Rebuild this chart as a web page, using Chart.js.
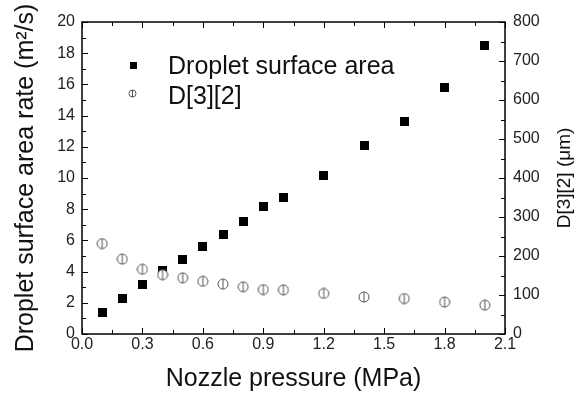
<!DOCTYPE html>
<html>
<head>
<meta charset="utf-8">
<script src="https://cdn.jsdelivr.net/npm/chart.js@4.4.0/dist/chart.umd.min.js"></script>
<style>
  html, body { margin: 0; padding: 0; background: #fff; }
</style>
</head>
<body>
<canvas id="myChart_1" width="578" height="394"></canvas>
<script>
// data
const pressure = [0.1, 0.2, 0.3, 0.4, 0.5, 0.6, 0.7, 0.8, 0.9, 1.0, 1.2, 1.4, 1.6, 1.8, 2.0];
const surfaceArea = [1.4, 2.3, 3.2, 4.05, 4.8, 5.6, 6.4, 7.2, 8.15, 8.75, 10.15, 12.1, 13.65, 15.8, 18.5];
const d32 = [232, 192, 166, 152, 144, 135, 128, 121, 114, 113, 104, 95, 91, 82, 74];
const xTicks = [0.0, 0.3, 0.6, 0.9, 1.2, 1.5, 1.8, 2.1];

const FONT = "'Liberation Sans', Arial, sans-serif";

function squareMark(size) {
  const c = document.createElement("canvas");
  c.width = size;
  c.height = size;
  const g = c.getContext("2d");
  g.fillStyle = "#000";
  g.fillRect(0, 0, size, size);
  return c;
}

function circleMark(size) {
  const c = document.createElement("canvas");
  c.width = size + 2;
  c.height = size + 2;
  const g = c.getContext("2d");
  const m = c.width / 2;
  g.fillStyle = "#fff";
  g.strokeStyle = "#555";
  g.lineWidth = 1;
  g.beginPath();
  g.arc(m, m, size / 2, 0, 2 * Math.PI);
  g.fill();
  g.stroke();
  g.beginPath();
  g.moveTo(m, m - size / 2);
  g.lineTo(m, m + size / 2);
  g.stroke();
  return c;
}

const sq = squareMark(9);
const circ = circleMark(10);
const sqSmall = squareMark(7);
const circSmall = circleMark(7);

// frame, inward ticks, legend, right title
const extras = {
  id: "extras",
  afterDraw(chart) {
    const { ctx, chartArea: a, scales } = chart;
    ctx.save();
    ctx.strokeStyle = "#000";
    ctx.lineWidth = 1.5;
    ctx.strokeRect(a.left, a.top, a.right - a.left, a.bottom - a.top);

    ctx.lineWidth = 1;
    function line(x1, y1, x2, y2) {
      ctx.beginPath();
      ctx.moveTo(x1, y1);
      ctx.lineTo(x2, y2);
      ctx.stroke();
    }
    for (let i = 0; i <= 14; i++) {
      const px = Math.round(scales.x.getPixelForValue(i * 0.15)) + 0.5;
      const len = i % 2 === 0 ? 6 : 4;
      line(px, a.bottom, px, a.bottom - len);
      line(px, a.top, px, a.top + len);
    }
    for (let v = 0; v <= 20; v++) {
      const py = Math.round(scales.y.getPixelForValue(v)) + 0.5;
      line(a.left, py, a.left + (v % 2 === 0 ? 6 : 4), py);
    }
    for (let v = 0; v <= 800; v += 50) {
      const py = Math.round(scales.y2.getPixelForValue(v)) + 0.5;
      line(a.right, py, a.right - (v % 100 === 0 ? 6 : 4), py);
    }

    // legend
    ctx.drawImage(sqSmall, a.left + 48, a.top + 40);
    ctx.drawImage(circSmall, a.left + 46, a.top + 67);
    ctx.fillStyle = "#111";
    ctx.font = "25px " + FONT;
    ctx.textAlign = "left";
    ctx.textBaseline = "middle";
    ctx.fillText(chart.data.datasets[0].label, a.left + 86, a.top + 45);
    ctx.fillText(chart.data.datasets[1].label, a.left + 86, a.top + 75);

    // right axis title, reads bottom to top
    ctx.translate(565, (a.top + a.bottom) / 2);
    ctx.rotate(-Math.PI / 2);
    ctx.textAlign = "center";
    ctx.font = "19px " + FONT;
    ctx.fillText("D[3][2] (μm)", 0, 0);
    ctx.restore();
  },
};

const ctx = document.getElementById("myChart_1").getContext("2d");

const config = {
  type: "scatter",
  data: {
    datasets: [
      {
        label: "Droplet surface area",
        data: pressure.map((p, i) => ({ x: p, y: surfaceArea[i] })),
        yAxisID: "y",
        pointStyle: sq,
        order: 2,
      },
      {
        label: "D[3][2]",
        data: pressure.map((p, i) => ({ x: p, y: d32[i] })),
        yAxisID: "y2",
        pointStyle: circ,
        order: 1,
      },
    ],
  },
  options: {
    responsive: false,
    animation: false,
    layout: { padding: { top: 22, left: 0, right: 0, bottom: 0 } },
    plugins: { legend: { display: false }, tooltip: { enabled: false } },
    scales: {
      x: {
        type: "linear",
        min: 0,
        max: 2.1,
        afterBuildTicks: (s) => { s.ticks = xTicks.map((v) => ({ value: v })); },
        afterFit: (s) => { s.height = 60; },
        grid: { display: false, drawTicks: false },
        border: { display: false },
        ticks: {
          padding: 1,
          color: "#222",
          font: { size: 16, family: FONT },
          callback: (v) => Number(v).toFixed(1),
          maxRotation: 0,
        },
        title: {
          display: true,
          text: "Nozzle pressure (MPa)",
          color: "#111",
          font: { size: 25, family: FONT },
          padding: { top: 0, bottom: 0 },
        },
      },
      y: {
        position: "left",
        min: 0,
        max: 20,
        afterFit: (s) => { s.width = 82; },
        grid: { display: false, drawTicks: false },
        border: { display: false },
        ticks: { stepSize: 2, padding: 7, color: "#222", font: { size: 16, family: FONT } },
        title: {
          display: true,
          text: "Droplet surface area rate (m²/s)",
          color: "#111",
          font: { size: 25, family: FONT },
          padding: { top: 11, bottom: 0 },
        },
      },
      y2: {
        position: "right",
        min: 0,
        max: 800,
        afterFit: (s) => { s.width = 73; },
        grid: { display: false, drawTicks: false },
        border: { display: false },
        ticks: { stepSize: 100, padding: 8, color: "#222", font: { size: 16, family: FONT } },
      },
    },
  },
  plugins: [extras],
};

const myChart_1 = new Chart(ctx, config);
</script>
</body>
</html>
